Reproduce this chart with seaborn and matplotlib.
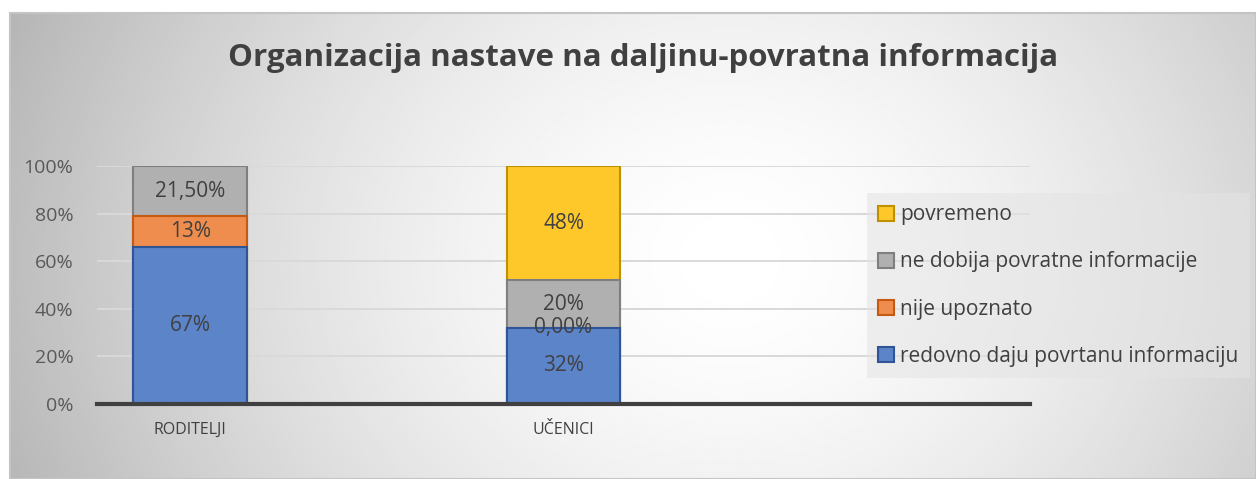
import matplotlib

matplotlib.use("Agg")

import matplotlib.pyplot as plt
import numpy as np
import pandas as pd
import seaborn as sns
from matplotlib.patches import Patch

# --- podaci ---
kategorije = ["RODITELJI", "UČENICI"]
serije = [
    "redovno daju povrtanu informaciju",
    "nije upoznato",
    "ne dobija povratne informacije",
    "povremeno",
]
redovno = [67, 32]
nije_upoznato = [13, 0]
ne_dobija = [21.5, 20]
povremeno = [None, 48]

oznake_redovno = ["67%", "32%"]
oznake_nije_upoznato = ["13%", "0,00%"]
oznake_ne_dobija = ["21,50%", "20%"]
oznake_povremeno = [None, "48%"]

naslov = "Organizacija nastave na daljinu-povratna informacija"
y_ticks = [0, 20, 40, 60, 80, 100]

boje = {
    serije[0]: ("#5b84c9", "#2f5597"),
    serije[1]: ("#ee8d4e", "#c55a11"),
    serije[2]: ("#b0b0b0", "#7f7f7f"),
    serije[3]: ("#ffc82a", "#bf9000"),
}

# long table, normalised to 100% per category (Excel 100% stacked)
rows = []
for s, vals, labs in zip(
    serije,
    [redovno, nije_upoznato, ne_dobija, povremeno],
    [oznake_redovno, oznake_nije_upoznato, oznake_ne_dobija, oznake_povremeno],
):
    for k, v, lab in zip(kategorije, vals, labs):
        rows.append({"kategorija": k, "serija": s, "vrijednost": v, "oznaka": lab})
df = pd.DataFrame(rows).dropna(subset=["vrijednost"])
df["udio"] = df["vrijednost"] / df.groupby("kategorija")["vrijednost"].transform("sum") * 100
df["vrh"] = df.groupby("kategorija")["udio"].cumsum()
df["sredina"] = df["vrh"] - df["udio"] / 2

# 5 category slots on the axis, only two of them filled
order = ["RODITELJI", "_p1", "UČENICI", "_p2", "_p3"]

sns.set_style("white")
plt.rcParams["font.family"] = ["Open Sans", "DejaVu Sans"]

W, H = 1256, 479
fig = plt.figure(figsize=(W / 100, H / 100), dpi=100)
fig.patch.set_facecolor("white")

# radial gradient background of the chart area
bg = fig.add_axes([10 / W, 0, 1 - 10 / W, (H - 13) / H], zorder=-5)
xs = np.linspace(10, W, 600)
ys = np.linspace(13, H, 240)
X, Y = np.meshgrid(xs, ys)
d = np.sqrt(((X - 730) / 760) ** 2 + ((Y - 260) / 650) ** 2)
val = 1 - 0.28 * np.clip(d, 0, 1.2) ** 1.6
bg.imshow(val, cmap="gray", vmin=0, vmax=1, aspect="auto", interpolation="bilinear")
bg.set_xticks([])
bg.set_yticks([])
for sp in bg.spines.values():
    sp.set_color("#c4c4c4")
    sp.set_linewidth(1.5)

ax = fig.add_axes([97 / W, 75 / H, 933 / W, 238 / H])
ax.patch.set_alpha(0)

for s in reversed(serije):
    sub = df[df["serija"] == s]
    fill, edge = boje[s]
    sns.barplot(
        data=sub, x="kategorija", y="vrh", order=order, color=fill,
        saturation=1, width=0.61, edgecolor=edge, linewidth=1.5,
        errorbar=None, ax=ax,
    )

for _, r in df.iterrows():
    if r["oznaka"] is None:
        continue
    ax.text(order.index(r["kategorija"]), r["sredina"], r["oznaka"],
            ha="center", va="center", fontsize=15, color="#404040")

ax.set_ylim(0, 100)
ax.set_xlim(-0.5, len(order) - 0.5)
ax.set_yticks(y_ticks)
ax.set_yticklabels([f"{t}%" for t in y_ticks], fontsize=14, color="#595959")
ax.set_xticks([order.index(k) for k in kategorije])
ax.set_xticklabels(kategorije, fontsize=11.5, color="#404040")
ax.tick_params(axis="both", length=0)
ax.tick_params(axis="y", pad=17)
ax.tick_params(axis="x", pad=13)
ax.set_xlabel("")
ax.set_ylabel("")
ax.set_axisbelow(True)
ax.yaxis.grid(True, color="#d9d9d9", linewidth=1.4)
ax.xaxis.grid(False)
for name, sp in ax.spines.items():
    sp.set_visible(name == "bottom")
ax.spines["bottom"].set_color("#404040")
ax.spines["bottom"].set_linewidth(3)

fig.text(643 / W, 1 - 58 / H, naslov, ha="center", va="center",
         fontsize=22.5, fontweight="bold", color="#404040")

handles = [Patch(facecolor=boje[s][0], edgecolor=boje[s][1], linewidth=1.5)
           for s in reversed(serije)]
leg = fig.legend(
    handles, list(reversed(serije)), loc="upper left",
    bbox_to_anchor=(867 / W, 1 - 193 / H), frameon=True, fancybox=False,
    facecolor="#e4e4e4", framealpha=0.55, edgecolor="none", fontsize=15,
    labelspacing=1.25, handlelength=0.75, handleheight=0.75, handletextpad=0.3,
    borderpad=0.55, borderaxespad=0,
)
for t in leg.get_texts():
    t.set_color("#404040")

fig.savefig("out.png", dpi=100)
